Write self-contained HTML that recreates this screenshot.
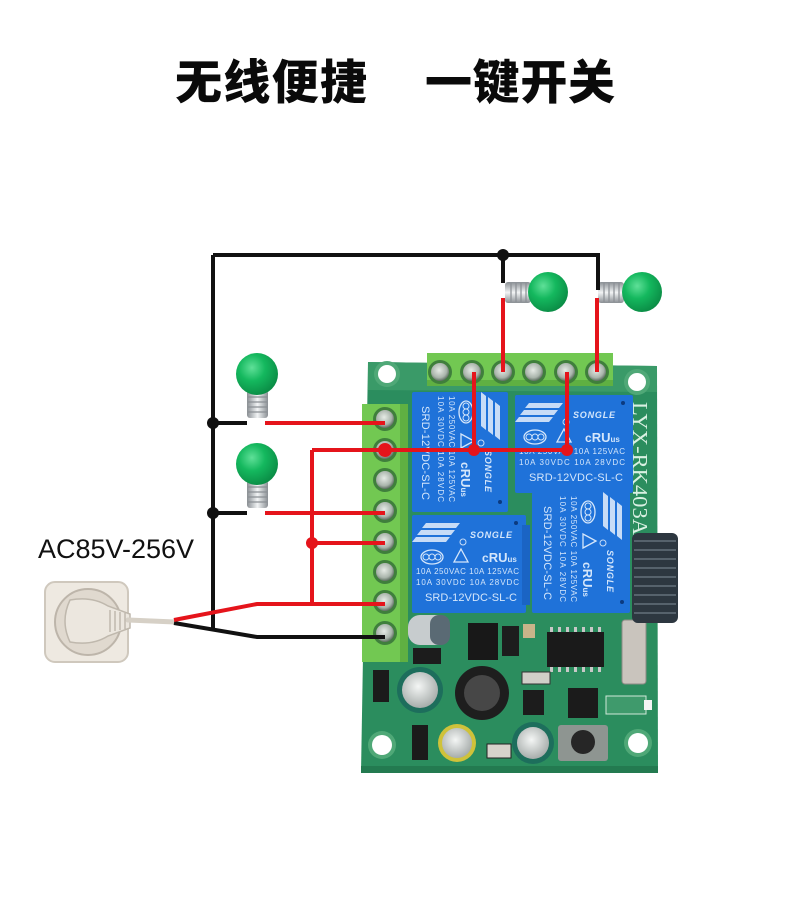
<!DOCTYPE html>
<html><head><meta charset="utf-8"><style>
html,body{margin:0;padding:0;background:#fff;}
body{width:790px;height:920px;overflow:hidden;}
svg{display:block;}
</style></head><body>
<svg width="790" height="920" viewBox="0 0 790 920" xmlns="http://www.w3.org/2000/svg">
<defs>
<radialGradient id="bulb" cx="0.38" cy="0.35" r="0.7">
<stop offset="0" stop-color="#5fe098"/><stop offset="0.45" stop-color="#14b85e"/><stop offset="1" stop-color="#0a8a44"/>
</radialGradient>
<linearGradient id="baseV" x1="0" y1="0" x2="1" y2="0">
<stop offset="0" stop-color="#8a8f94"/><stop offset="0.5" stop-color="#f2f4f5"/><stop offset="1" stop-color="#8a8f94"/>
</linearGradient>
<linearGradient id="baseH" x1="0" y1="0" x2="0" y2="1">
<stop offset="0" stop-color="#8a8f94"/><stop offset="0.5" stop-color="#f2f4f5"/><stop offset="1" stop-color="#8a8f94"/>
</linearGradient>
<radialGradient id="screw" cx="0.45" cy="0.4" r="0.6">
<stop offset="0" stop-color="#e6ebe6"/><stop offset="0.7" stop-color="#a9b4ab"/><stop offset="1" stop-color="#5d6e60"/>
</radialGradient>
<radialGradient id="cap" cx="0.45" cy="0.4" r="0.6">
<stop offset="0" stop-color="#f4f6f5"/><stop offset="1" stop-color="#a7adab"/>
</radialGradient>
</defs>

<!-- Title -->
<text x="175" y="99" font-family="'Noto Sans CJK SC','WenQuanYi Zen Hei',sans-serif" font-weight="900" font-size="47" fill="#0a0a0a" textLength="192">无线便捷</text>
<text x="425" y="99" font-family="'Noto Sans CJK SC','WenQuanYi Zen Hei',sans-serif" font-weight="900" font-size="47" fill="#0a0a0a" textLength="190">一键开关</text>

<!-- AC label -->
<text x="38" y="558" font-family="'Liberation Sans',sans-serif" font-size="27" fill="#111" textLength="156">AC85V-256V</text>

<!-- Socket -->
<rect x="45" y="582" width="83" height="80" rx="10" fill="#eee9e1" stroke="#cfc8bd" stroke-width="2"/>
<circle cx="88" cy="622" r="33" fill="#e0d9cf" stroke="#bdb5aa" stroke-width="2"/>
<path d="M70,600 Q92,596 108,606 L130,614 L130,628 L108,636 Q92,646 70,642 Q60,621 70,600 Z" fill="#ece7df" stroke="#bfb8ad" stroke-width="1.5"/>
<path d="M110,610 v22 M115,611 v20 M120,612 v18 M125,613 v16" stroke="#b5ada2" stroke-width="1.2"/>
<line x1="128" y1="620" x2="175" y2="622" stroke="#d6d0c6" stroke-width="5" stroke-linecap="round"/>

<!-- PCB -->
<polygon points="368,362 657,366 658,773 361,773" fill="#2b8d5e"/>
<polygon points="368,362 657,366 657,392 368,390" fill="#3a9a68"/>
<rect x="361" y="766" width="297" height="7" fill="#237a50"/>
<!-- holes -->
<circle cx="387" cy="374" r="13" fill="#4fa877"/><circle cx="387" cy="374" r="9" fill="#fff"/>
<circle cx="637" cy="382" r="13" fill="#4fa877"/><circle cx="637" cy="382" r="9" fill="#fff"/>
<circle cx="382" cy="745" r="14" fill="#4fa877"/><circle cx="382" cy="745" r="10" fill="#fff"/>
<circle cx="638" cy="743" r="14" fill="#4fa877"/><circle cx="638" cy="743" r="10" fill="#fff"/>

<!-- board text -->
<text transform="translate(633,402) rotate(90)" font-family="'Liberation Serif',serif" font-size="21" fill="#d9f0e2" textLength="133" lengthAdjust="spacingAndGlyphs">LYX-RK403A</text>

<!-- lower components -->
<rect x="408" y="615" width="42" height="30" rx="12" fill="#c7ccce"/>
<rect x="430" y="615" width="20" height="30" rx="9" fill="#5a6a74"/>
<rect x="413" y="648" width="28" height="16" fill="#1c1c1c"/>
<rect x="468" y="623" width="30" height="37" fill="#181818"/>
<rect x="502" y="626" width="17" height="30" fill="#1d1d1d"/>
<rect x="523" y="624" width="12" height="14" fill="#c9b48a"/>
<rect x="547" y="632" width="57" height="35" fill="#1a1a1a"/>
<g fill="#c8c8c8"><rect x="550" y="627" width="3" height="5"/><rect x="558" y="627" width="3" height="5"/><rect x="566" y="627" width="3" height="5"/><rect x="574" y="627" width="3" height="5"/><rect x="582" y="627" width="3" height="5"/><rect x="590" y="627" width="3" height="5"/><rect x="598" y="627" width="3" height="5"/>
<rect x="550" y="667" width="3" height="5"/><rect x="558" y="667" width="3" height="5"/><rect x="566" y="667" width="3" height="5"/><rect x="574" y="667" width="3" height="5"/><rect x="582" y="667" width="3" height="5"/><rect x="590" y="667" width="3" height="5"/><rect x="598" y="667" width="3" height="5"/></g>
<rect x="622" y="620" width="24" height="64" rx="3" fill="#c9c4bd" stroke="#8d8a85"/>
<rect x="373" y="670" width="16" height="32" fill="#1b1b1b"/>
<circle cx="420" cy="690" r="23" fill="#1d6e5c"/><circle cx="420" cy="690" r="18" fill="url(#cap)"/>
<circle cx="482" cy="693" r="27" fill="#1e1e1e"/><circle cx="482" cy="693" r="18" fill="#474747"/>
<rect x="523" y="690" width="21" height="25" fill="#1c1c1c"/>
<rect x="568" y="688" width="30" height="30" fill="#1b1b1b"/>
<rect x="522" y="672" width="28" height="12" fill="#d0cfc8" stroke="#333"/>
<circle cx="457" cy="743" r="19" fill="#cfc23a"/><circle cx="457" cy="743" r="15" fill="url(#cap)"/>
<circle cx="533" cy="743" r="21" fill="#1d6e5c"/><circle cx="533" cy="743" r="16" fill="url(#cap)"/>
<rect x="412" y="725" width="16" height="35" fill="#1b1b1b"/>
<rect x="487" y="744" width="24" height="14" fill="#d6d3cb" stroke="#222"/>
<rect x="558" y="725" width="50" height="36" rx="3" fill="#8e9591"/>
<circle cx="583" cy="742" r="12" fill="#262626"/>
<rect x="606" y="696" width="40" height="18" fill="#3f9a6c" stroke="#cfe8d8" stroke-width="1"/>
<rect x="644" y="700" width="8" height="10" fill="#f4f4f4"/>

<!-- Antenna -->
<rect x="632" y="533" width="46" height="90" rx="6" fill="#2d3740"/>
<g stroke="#56626c" stroke-width="2"><line x1="634" y1="541" x2="676" y2="541"/><line x1="634" y1="550" x2="676" y2="550"/><line x1="634" y1="559" x2="676" y2="559"/><line x1="634" y1="568" x2="676" y2="568"/><line x1="634" y1="577" x2="676" y2="577"/><line x1="634" y1="586" x2="676" y2="586"/><line x1="634" y1="595" x2="676" y2="595"/><line x1="634" y1="604" x2="676" y2="604"/><line x1="634" y1="613" x2="676" y2="613"/></g>

<!-- Relays -->
<!-- bottom-left -->
<g transform="translate(412,515)">
<rect x="0" y="0" width="114" height="98" rx="2" fill="#1f72d9"/>
<rect x="110" y="10" width="8" height="80" fill="#1a64c4"/>
<circle cx="104" cy="8" r="2" fill="#0b3a80"/>
<g fill="#c7dcf7"><polygon points="14,8 48,8 44,13 10,13"/><polygon points="9,15 43,15 39,20 5,20"/><polygon points="4,22 38,22 34,27 0,27"/></g>
<circle cx="51" cy="27" r="3" fill="none" stroke="#c7dcf7"/>
<text x="58" y="23" font-family="'Liberation Sans',sans-serif" font-weight="bold" font-style="italic" font-size="9" fill="#d4e6fb" textLength="42">SONGLE</text>
<ellipse cx="20" cy="42" rx="11" ry="7" fill="none" stroke="#d4e6fb" stroke-width="1.3"/>
<g fill="none" stroke="#d4e6fb" stroke-width="1"><circle cx="14" cy="42" r="3"/><circle cx="20" cy="42" r="3"/><circle cx="26" cy="42" r="3"/></g>
<polygon points="49,34 56,47 42,47" fill="none" stroke="#d4e6fb" stroke-width="1.3"/>
<text x="70" y="47" font-family="'Liberation Sans',sans-serif" font-weight="bold" font-size="12" fill="#d4e6fb">c<tspan font-size="13">RU</tspan><tspan font-size="8">us</tspan></text>
<text x="4" y="59" font-family="'Liberation Sans',sans-serif" font-size="8" fill="#d4e6fb" textLength="103">10A 250VAC 10A 125VAC</text>
<text x="4" y="70" font-family="'Liberation Sans',sans-serif" font-size="8" fill="#d4e6fb" textLength="103">10A 30VDC 10A 28VDC</text>
<text x="13" y="86" font-family="'Liberation Sans',sans-serif" font-size="11" fill="#d4e6fb" textLength="92">SRD-12VDC-SL-C</text>
</g>
<!-- top-right -->
<g transform="translate(515,395)">
<rect x="0" y="0" width="118" height="98" rx="2" fill="#1f72d9"/>
<circle cx="108" cy="8" r="2" fill="#0b3a80"/>
<g fill="#c7dcf7"><polygon points="14,8 48,8 44,13 10,13"/><polygon points="9,15 43,15 39,20 5,20"/><polygon points="4,22 38,22 34,27 0,27"/></g>
<circle cx="51" cy="27" r="3" fill="none" stroke="#c7dcf7"/>
<text x="58" y="23" font-family="'Liberation Sans',sans-serif" font-weight="bold" font-style="italic" font-size="9" fill="#d4e6fb" textLength="42">SONGLE</text>
<ellipse cx="20" cy="42" rx="11" ry="7" fill="none" stroke="#d4e6fb" stroke-width="1.3"/>
<g fill="none" stroke="#d4e6fb" stroke-width="1"><circle cx="14" cy="42" r="3"/><circle cx="20" cy="42" r="3"/><circle cx="26" cy="42" r="3"/></g>
<polygon points="49,34 56,47 42,47" fill="none" stroke="#d4e6fb" stroke-width="1.3"/>
<text x="70" y="47" font-family="'Liberation Sans',sans-serif" font-weight="bold" font-size="12" fill="#d4e6fb">c<tspan font-size="13">RU</tspan><tspan font-size="8">us</tspan></text>
<text x="4" y="59" font-family="'Liberation Sans',sans-serif" font-size="8" fill="#d4e6fb" textLength="106">10A 250VAC 10A 125VAC</text>
<text x="4" y="70" font-family="'Liberation Sans',sans-serif" font-size="8" fill="#d4e6fb" textLength="106">10A 30VDC 10A 28VDC</text>
<text x="14" y="86" font-family="'Liberation Sans',sans-serif" font-size="11" fill="#d4e6fb" textLength="94">SRD-12VDC-SL-C</text>
</g>
<!-- top-left rotated -->
<g transform="translate(508,392) rotate(90)">
<rect x="0" y="0" width="120" height="96" rx="2" fill="#1f72d9"/>
<circle cx="110" cy="8" r="2" fill="#0b3a80"/>
<g fill="#c7dcf7"><polygon points="14,8 48,8 44,13 10,13"/><polygon points="9,15 43,15 39,20 5,20"/><polygon points="4,22 38,22 34,27 0,27"/></g>
<circle cx="51" cy="27" r="3" fill="none" stroke="#c7dcf7"/>
<text x="58" y="23" font-family="'Liberation Sans',sans-serif" font-weight="bold" font-style="italic" font-size="9" fill="#d4e6fb" textLength="42">SONGLE</text>
<ellipse cx="20" cy="42" rx="11" ry="7" fill="none" stroke="#d4e6fb" stroke-width="1.3"/>
<g fill="none" stroke="#d4e6fb" stroke-width="1"><circle cx="14" cy="42" r="3"/><circle cx="20" cy="42" r="3"/><circle cx="26" cy="42" r="3"/></g>
<polygon points="49,34 56,47 42,47" fill="none" stroke="#d4e6fb" stroke-width="1.3"/>
<text x="70" y="47" font-family="'Liberation Sans',sans-serif" font-weight="bold" font-size="12" fill="#d4e6fb">c<tspan font-size="13">RU</tspan><tspan font-size="8">us</tspan></text>
<text x="4" y="59" font-family="'Liberation Sans',sans-serif" font-size="8" fill="#d4e6fb" textLength="106">10A 250VAC 10A 125VAC</text>
<text x="4" y="70" font-family="'Liberation Sans',sans-serif" font-size="8" fill="#d4e6fb" textLength="106">10A 30VDC 10A 28VDC</text>
<text x="14" y="86" font-family="'Liberation Sans',sans-serif" font-size="11" fill="#d4e6fb" textLength="94">SRD-12VDC-SL-C</text>
</g>
<!-- bottom-right rotated -->
<g transform="translate(630,492) rotate(90)">
<rect x="0" y="0" width="121" height="98" rx="2" fill="#1f72d9"/>
<circle cx="110" cy="8" r="2" fill="#0b3a80"/>
<g fill="#c7dcf7"><polygon points="14,8 48,8 44,13 10,13"/><polygon points="9,15 43,15 39,20 5,20"/><polygon points="4,22 38,22 34,27 0,27"/></g>
<circle cx="51" cy="27" r="3" fill="none" stroke="#c7dcf7"/>
<text x="58" y="23" font-family="'Liberation Sans',sans-serif" font-weight="bold" font-style="italic" font-size="9" fill="#d4e6fb" textLength="42">SONGLE</text>
<ellipse cx="20" cy="42" rx="11" ry="7" fill="none" stroke="#d4e6fb" stroke-width="1.3"/>
<g fill="none" stroke="#d4e6fb" stroke-width="1"><circle cx="14" cy="42" r="3"/><circle cx="20" cy="42" r="3"/><circle cx="26" cy="42" r="3"/></g>
<polygon points="49,34 56,47 42,47" fill="none" stroke="#d4e6fb" stroke-width="1.3"/>
<text x="70" y="47" font-family="'Liberation Sans',sans-serif" font-weight="bold" font-size="12" fill="#d4e6fb">c<tspan font-size="13">RU</tspan><tspan font-size="8">us</tspan></text>
<text x="4" y="59" font-family="'Liberation Sans',sans-serif" font-size="8" fill="#d4e6fb" textLength="106">10A 250VAC 10A 125VAC</text>
<text x="4" y="70" font-family="'Liberation Sans',sans-serif" font-size="8" fill="#d4e6fb" textLength="106">10A 30VDC 10A 28VDC</text>
<text x="14" y="86" font-family="'Liberation Sans',sans-serif" font-size="11" fill="#d4e6fb" textLength="94">SRD-12VDC-SL-C</text>
</g>

<!-- Terminal blocks -->
<rect x="427" y="353" width="186" height="33" fill="#72c852"/>
<rect x="427" y="380" width="186" height="6" fill="#5fb042"/>
<g>
<circle cx="440" cy="372" r="12" fill="#3f7f3c"/><circle cx="440" cy="372" r="9" fill="url(#screw)"/>
<circle cx="472" cy="372" r="12" fill="#3f7f3c"/><circle cx="472" cy="372" r="9" fill="url(#screw)"/>
<circle cx="503" cy="372" r="12" fill="#3f7f3c"/><circle cx="503" cy="372" r="9" fill="url(#screw)"/>
<circle cx="534" cy="372" r="12" fill="#3f7f3c"/><circle cx="534" cy="372" r="9" fill="url(#screw)"/>
<circle cx="566" cy="372" r="12" fill="#3f7f3c"/><circle cx="566" cy="372" r="9" fill="url(#screw)"/>
<circle cx="597" cy="372" r="12" fill="#3f7f3c"/><circle cx="597" cy="372" r="9" fill="url(#screw)"/>
</g>
<rect x="362" y="404" width="46" height="258" fill="#72c852"/>
<rect x="400" y="404" width="8" height="258" fill="#5fb042"/>
<g>
<circle cx="385" cy="419" r="12" fill="#3f7f3c"/><circle cx="385" cy="419" r="9" fill="url(#screw)"/>
<circle cx="385" cy="450" r="12" fill="#3f7f3c"/><circle cx="385" cy="450" r="9" fill="url(#screw)"/>
<circle cx="385" cy="480" r="12" fill="#3f7f3c"/><circle cx="385" cy="480" r="9" fill="url(#screw)"/>
<circle cx="385" cy="511" r="12" fill="#3f7f3c"/><circle cx="385" cy="511" r="9" fill="url(#screw)"/>
<circle cx="385" cy="542" r="12" fill="#3f7f3c"/><circle cx="385" cy="542" r="9" fill="url(#screw)"/>
<circle cx="385" cy="572" r="12" fill="#3f7f3c"/><circle cx="385" cy="572" r="9" fill="url(#screw)"/>
<circle cx="385" cy="602" r="12" fill="#3f7f3c"/><circle cx="385" cy="602" r="9" fill="url(#screw)"/>
<circle cx="385" cy="633" r="12" fill="#3f7f3c"/><circle cx="385" cy="633" r="9" fill="url(#screw)"/>
</g>

<!-- Bulbs top (horizontal) -->
<g>
<rect x="505" y="282" width="26" height="21" rx="3" fill="url(#baseH)"/>
<g stroke="#8a8f94" stroke-width="1.2"><line x1="511" y1="283" x2="511" y2="302"/><line x1="516" y1="283" x2="516" y2="302"/><line x1="521" y1="283" x2="521" y2="302"/><line x1="526" y1="283" x2="526" y2="302"/></g>
<circle cx="548" cy="292" r="20" fill="url(#bulb)"/>
<rect x="598" y="282" width="26" height="21" rx="3" fill="url(#baseH)"/>
<g stroke="#8a8f94" stroke-width="1.2"><line x1="604" y1="283" x2="604" y2="302"/><line x1="609" y1="283" x2="609" y2="302"/><line x1="614" y1="283" x2="614" y2="302"/><line x1="619" y1="283" x2="619" y2="302"/></g>
<circle cx="642" cy="292" r="20" fill="url(#bulb)"/>
</g>
<!-- Bulbs left (vertical) -->
<g>
<rect x="247" y="390" width="21" height="28" rx="3" fill="url(#baseV)"/>
<g stroke="#8a8f94" stroke-width="1.2"><line x1="248" y1="397" x2="267" y2="397"/><line x1="248" y1="402" x2="267" y2="402"/><line x1="248" y1="407" x2="267" y2="407"/><line x1="248" y1="412" x2="267" y2="412"/></g>
<circle cx="257" cy="374" r="21" fill="url(#bulb)"/>
<rect x="247" y="480" width="21" height="28" rx="3" fill="url(#baseV)"/>
<g stroke="#8a8f94" stroke-width="1.2"><line x1="248" y1="487" x2="267" y2="487"/><line x1="248" y1="492" x2="267" y2="492"/><line x1="248" y1="497" x2="267" y2="497"/><line x1="248" y1="502" x2="267" y2="502"/></g>
<circle cx="257" cy="464" r="21" fill="url(#bulb)"/>
</g>

<!-- Black wires -->
<g stroke="#111" stroke-width="4" fill="none" stroke-linejoin="miter">
<path d="M213,255 H598 V290"/>
<path d="M503,255 V283"/>
<path d="M213,255 V629"/>
<path d="M213,423 H247"/>
<path d="M213,513 H247"/>
<path d="M174,623 L257,637 H385"/>
</g>
<g fill="#111"><circle cx="213" cy="423" r="6"/><circle cx="213" cy="513" r="6"/><circle cx="503" cy="255" r="6"/></g>

<!-- Red wires -->
<g stroke="#e5141b" stroke-width="4" fill="none">
<path d="M174,620 L257,604 H385"/>
<path d="M312,450 V604"/>
<path d="M312,450 H567"/>
<path d="M312,543 H385"/>
<path d="M265,423 H385"/>
<path d="M265,513 H385"/>
<path d="M474,372 V450"/>
<path d="M567,372 V450"/>
<path d="M503,298 V372"/>
<path d="M597,298 V372"/>
</g>
<g fill="#e5141b"><circle cx="312" cy="543" r="6"/><circle cx="474" cy="450" r="6"/><circle cx="567" cy="450" r="6"/><circle cx="385" cy="450" r="7"/></g>
</svg>
</body></html>
